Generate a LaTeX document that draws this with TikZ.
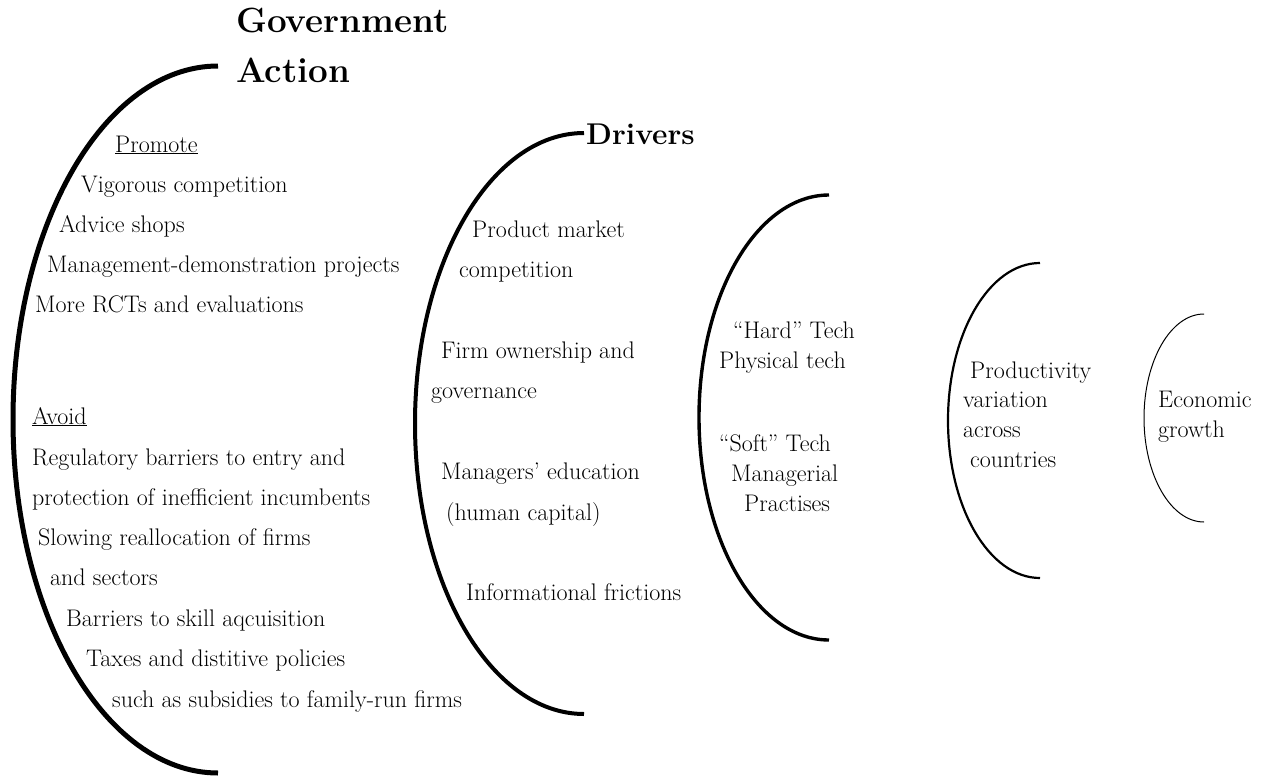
\documentclass[tikz,border=0pt]{standalone}
\usepackage{fontspec}
\begin{document}
\begin{tikzpicture}[x=1pt,y=1pt,
  body/.style={anchor=base west,inner sep=0pt,font=\fontsize{24}{28}\selectfont},
  head/.style={anchor=base west,inner sep=0pt,font=\bfseries\fontsize{35}{42}\selectfont},
  subhead/.style={anchor=base west,inner sep=0pt,font=\bfseries\fontsize{30}{36}\selectfont},
  shell/.style={line cap=butt}]
\useasboundingbox (0,0) rectangle (1275,-776);

% nested half-ellipses, thinning from left to right
\draw[shell,line width=5pt] (218,-66) arc[start angle=90,end angle=270,x radius=205,y radius=353.5];
\draw[shell,line width=4pt] (584,-133) arc[start angle=90,end angle=270,x radius=169,y radius=290.5];
\draw[shell,line width=3.4pt] (829,-195) arc[start angle=90,end angle=270,x radius=130,y radius=222.5];
\draw[shell,line width=2.2pt] (1040,-263) arc[start angle=90,end angle=270,x radius=92,y radius=157.5];
\draw[shell,line width=1pt] (1204,-314) arc[start angle=90,end angle=270,x radius=60,y radius=104];

% Government action
\node[head] (gov1) at (236,-33) {Government};
\node[head] (gov2) at (236,-83) {Action};
\node[body] (pro) at (115,-152) {\underline{Promote}};
\node[body] (p1) at (81,-192) {Vigorous competition};
\node[body] (p2) at (59,-232) {Advice shops};
\node[body] (p3) at (47,-272) {Management-demonstration projects};
\node[body] (p4) at (35,-312) {More RCTs and evaluations};
\node[body] (avo) at (32,-424) {\underline{Avoid}};
\node[body] (a1) at (32,-465) {Regulatory barriers to entry and};
\node[body] (a2) at (32,-505) {protection of inefficient incumbents};
\node[body] (a3) at (38,-545) {Slowing reallocation of firms};
\node[body] (a4) at (50,-585) {and sectors};
\node[body] (a5) at (66,-626) {Barriers to skill aqcuisition};
\node[body] (a6) at (86,-666) {Taxes and distitive policies};
\node[body] (a7) at (112,-707) {such as subsidies to family-run firms};

% Drivers
\node[subhead] (drv) at (586,-144) {Drivers};
\node[body] (d1) at (472,-237) {Product market};
\node[body] (d2) at (459,-277) {competition};
\node[body] (d3) at (441,-358) {Firm ownership and};
\node[body] (d4) at (431,-398) {governance};
\node[body] (d5) at (441,-479) {Managers’ education};
\node[body] (d6) at (446,-520) {(human capital)};
\node[body] (d7) at (466,-600) {Informational frictions};

% Technology
\node[body] (h1) at (733,-338) {“Hard” Tech};
\node[body] (h2) at (719,-368) {Physical tech};
\node[body] (s1) at (719,-451) {“Soft” Tech};
\node[body] (s2) at (731,-481) {Managerial};
\node[body] (s3) at (744,-511) {Practises};

% Productivity
\node[body] (v1) at (970,-378) {Productivity};
\node[body] (v2) at (963,-407) {variation};
\node[body] (v3) at (963,-437) {across};
\node[body] (v4) at (970,-467) {countries};

% Growth
\node[body] (g1) at (1158,-407) {Economic};
\node[body] (g2) at (1158,-437) {growth};
\end{tikzpicture}
\end{document}
